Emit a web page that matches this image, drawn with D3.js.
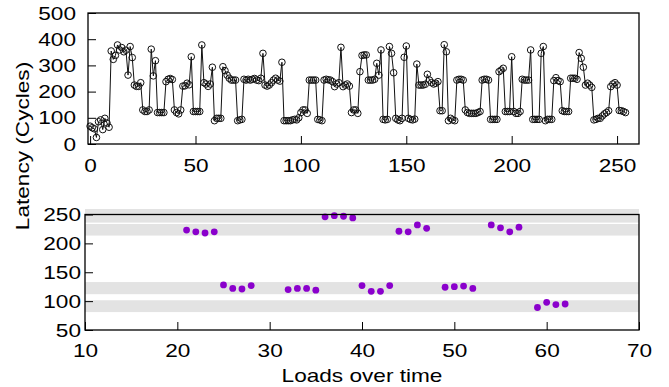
<!DOCTYPE html>
<html><head><meta charset="utf-8">
<script src="https://cdn.jsdelivr.net/npm/d3@7/dist/d3.min.js"></script>
<style>
body{margin:0;background:#fff}
text{font-family:"Liberation Sans",Arial,Helvetica,sans-serif;fill:#000}
</style>
</head><body>
<svg id="chart" width="669" height="387"></svg>
<script>
// ---- Top panel: latency of each load (cycles) ----
const latency = [
  68,62,58,25,85,92,55,98,80,64,
  355,323,338,378,359,368,352,358,263,372,
  330,225,220,220,234,130,124,124,130,362,
  260,318,120,120,120,120,238,247,250,246,
  130,120,115,130,221,222,232,226,333,124,
  124,124,124,378,234,229,220,229,293,89,
  98,98,98,295,280,263,251,244,244,244,
  89,92,94,247,244,247,244,247,250,244,
  242,251,346,225,221,225,234,244,251,244,
  240,312,89,89,89,89,92,94,92,100,
  120,130,130,117,244,244,244,244,94,92,
  89,244,247,245,244,238,219,229,234,369,
  219,225,229,221,120,130,130,117,276,338,
  340,340,244,244,244,247,308,263,359,94,
  92,94,372,346,272,98,92,89,98,331,
  374,98,94,92,95,305,225,225,225,228,
  266,244,234,229,232,238,127,127,379,352,
  89,98,92,89,244,247,247,244,130,120,
  117,117,117,117,120,124,244,247,247,244,
  94,94,94,94,276,282,289,124,124,124,
  333,124,117,117,124,247,244,244,244,359,
  94,94,94,94,346,372,89,94,94,94,
  242,253,242,238,127,124,124,124,251,251,
  251,247,349,327,293,225,232,225,216,92,
  94,98,98,107,115,120,127,219,229,234,
  225,128,127,124,120
];
const topXTicks = [0, 50, 100, 150, 200, 250];
const topYTicks = [0, 100, 200, 300, 400, 500];

// ---- Bottom panel: selected loads ----
const loadIndex = [21,22,23,24, 25,26,27,28, 32,33,34,35, 36,37,38,39,
                   40,41,42,43, 44,45,46,47, 49,50,51,52, 54,55,56,57, 59,60,61,62];
const loadLatency = [223,220,218,220, 128,122,121,127, 120,122,122,119, 246,248,247,244,
                     127,117,117,127, 221,220,232,226, 124,125,126,122, 232,227,220,228, 89,98,94,95];
const botXTicks = [10, 20, 30, 40, 50, 60, 70];
const botYTicks = [50, 100, 150, 200, 250];
// shaded latency ranges [low, high]
const bands = [[236, 259.5], [213.5, 233.5], [112, 133], [81, 101.5]];

const svg = d3.select("#chart");
const FS = 19;
const SX = 1.19; // glyphs in the reference are wider than Arial

function styleX(g) {
  g.select(".domain").remove();
  g.selectAll("line").attr("stroke", "#000");
  g.selectAll("text").attr("font-size", FS).attr("font-family", null)
    .attr("transform", `scale(${SX},1)`);
}
function styleY(pad) {
  return g => {
    g.select(".domain").remove();
    g.selectAll("line").attr("stroke", "#000");
    g.selectAll("text").attr("font-size", FS).attr("font-family", null)
      .attr("x", -pad / SX).attr("transform", `scale(${SX},1)`);
  };
}

// ===== Top panel =====
const xT = d3.scaleLinear().domain([-1, 260.4]).range([88, 639]);
const yT = d3.scaleLinear().domain([0, 500]).range([144, 13]);

const gTop = svg.append("g");
gTop.append("g")
  .attr("transform", `translate(0,${yT(0)})`)
  .call(d3.axisBottom(xT).tickValues(topXTicks).tickSize(-8).tickPadding(15).tickFormat(d3.format("d")))
  .call(styleX);
gTop.append("g")
  .attr("transform", `translate(${xT.range()[0]},0)`)
  .call(d3.axisLeft(yT).tickValues(topYTicks).tickSize(-8).tickPadding(12).tickFormat(d3.format("d")))
  .call(styleY(12));

const line = d3.line().x((d, i) => xT(i)).y(d => yT(d));
gTop.append("path").datum(latency)
  .attr("d", line).attr("fill", "none").attr("stroke", "#111").attr("stroke-width", 1);
gTop.append("g").selectAll("circle").data(latency).join("circle")
  .attr("cx", (d, i) => xT(i)).attr("cy", d => yT(d)).attr("r", 3.3)
  .attr("fill", "none").attr("stroke", "#111").attr("stroke-width", 1);

gTop.append("rect")
  .attr("x", xT.range()[0]).attr("y", yT.range()[1])
  .attr("width", xT.range()[1] - xT.range()[0]).attr("height", yT.range()[0] - yT.range()[1])
  .attr("fill", "none").attr("stroke", "#000").attr("stroke-width", 1.3);

// ===== Bottom panel =====
const xB = d3.scaleLinear().domain([10, 70]).range([85, 639]);
const yB = d3.scaleLinear().domain([50, 250]).range([330, 214.5]);

const gBot = svg.append("g");
gBot.append("g").selectAll("rect").data(bands).join("rect")
  .attr("x", xB.range()[0]).attr("width", xB.range()[1] - xB.range()[0])
  .attr("y", d => yB(d[1])).attr("height", d => yB(d[0]) - yB(d[1]))
  .attr("fill", "#e3e3e3");

gBot.append("g")
  .attr("transform", `translate(0,${yB(50)})`)
  .call(d3.axisBottom(xB).tickValues(botXTicks).tickSize(-8).tickPadding(14).tickFormat(d3.format("d")))
  .call(styleX);
gBot.append("g")
  .attr("transform", `translate(${xB.range()[0]},0)`)
  .call(d3.axisLeft(yB).tickValues(botYTicks).tickSize(-8).tickPadding(4).tickFormat(d3.format("d")))
  .call(styleY(4));

gBot.append("g").selectAll("circle").data(loadIndex).join("circle")
  .attr("cx", d => xB(d)).attr("cy", (d, i) => yB(loadLatency[i])).attr("r", 3.4)
  .attr("fill", "#8a00cc");

gBot.append("rect")
  .attr("x", xB.range()[0]).attr("y", yB.range()[1])
  .attr("width", xB.range()[1] - xB.range()[0]).attr("height", yB.range()[0] - yB.range()[1])
  .attr("fill", "none").attr("stroke", "#000").attr("stroke-width", 1.3);

// ===== Titles =====
const cx = (xB.range()[0] + xB.range()[1]) / 2;
svg.append("text").attr("transform", `translate(${cx},382) scale(${SX},1)`)
  .attr("text-anchor", "middle").attr("font-size", FS).text("Loads over time");
svg.append("text").attr("transform", `translate(29,146) rotate(-90) scale(${SX},1)`)
  .attr("text-anchor", "middle").attr("font-size", FS).text("Latency (Cycles)");
</script>
</body></html>
